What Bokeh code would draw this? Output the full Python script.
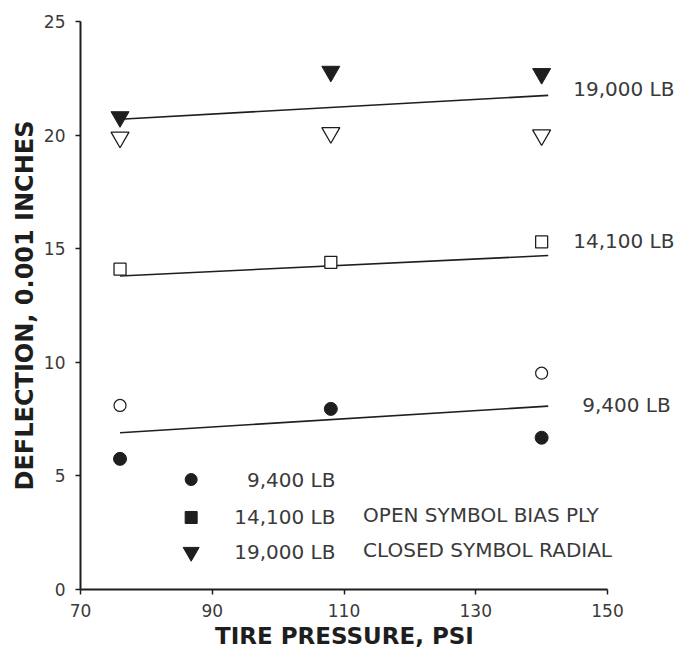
from bokeh.plotting import figure
from bokeh.models import ColumnDataSource, FixedTicker, Title
from bokeh.core.properties import value
from bokeh.embed import file_html
from bokeh.resources import INLINE

# ---- data ----
pressure = [76, 108, 140]
radial_19000 = [20.8, 22.8, 22.7]
bias_19000 = [19.9, 20.1, 20.0]
bias_14100 = [14.1, 14.4, 15.3]
radial_9400 = [5.75, 7.95, 6.68]
bias_9400_x = [76, 140]
bias_9400 = [8.1, 9.52]
fit_x = [76, 141]
fit_19000 = [20.7, 21.75]
fit_14100 = [13.8, 14.7]
fit_9400 = [6.9, 8.07]
line_labels = ["19,000 LB", "14,100 LB", "9,400 LB"]
label_y = [22.05, 15.35, 8.1]
x_ticks = [70, 90, 110, 130, 150]
y_ticks = [0, 5, 10, 15, 20, 25]
x_title = "TIRE PRESSURE, PSI"
y_title = "DEFLECTION, 0.001 INCHES"
legend_loads = ["9,400 LB", "14,100 LB", "19,000 LB"]
legend_markers = ["circle", "square", "inverted_triangle"]
legend_notes = ["OPEN SYMBOL BIAS PLY", "CLOSED SYMBOL RADIAL"]

INK = "#1e1e1e"
TXT = "#3a3a3a"
FONT = "DejaVu Sans"
PX_PER_X = 527 / 80.0
FRAME_W = 603
X_MIN, X_MAX = x_ticks[0], x_ticks[-1]

p = figure(width=683, height=652, frame_width=FRAME_W, frame_height=568,
           x_range=(X_MIN, X_MIN + FRAME_W / PX_PER_X), y_range=(0, 25),
           output_backend="svg", toolbar_location=None,
           min_border_left=80, min_border_right=0,
           min_border_top=21, min_border_bottom=63)
p.outline_line_color = None
p.xgrid.visible = False
p.ygrid.visible = False
p.background_fill_color = "white"
p.border_fill_color = "white"

for ax in (p.xaxis[0], p.yaxis[0]):
    ax.axis_line_color = INK
    ax.axis_line_width = 2
    ax.major_tick_line_color = INK
    ax.major_tick_line_width = 1.5
    ax.major_tick_in = 0
    ax.major_tick_out = 5
    ax.minor_tick_line_color = None
    ax.major_label_text_font = FONT
    ax.major_label_text_font_size = "17px"
    ax.major_label_text_color = TXT
    ax.axis_label_text_font = "DejaVu Sans"
    ax.axis_label_text_font_style = "bold"
    ax.axis_label_text_font_size = "24px"
    ax.axis_label_text_color = INK

p.xaxis[0].bounds = (X_MIN, X_MAX)
p.xaxis[0].ticker = FixedTicker(ticks=x_ticks)
p.yaxis[0].ticker = FixedTicker(ticks=y_ticks)
p.yaxis[0].axis_label = y_title
p.xaxis[0].major_label_standoff = 9
p.yaxis[0].major_label_standoff = 10
p.yaxis[0].axis_label_standoff = 2

# x-axis title, left-aligned with an offset so it is centred under the axis
title_half_width = 129
offset = (X_MAX - X_MIN) * PX_PER_X / 2 - title_half_width
p.add_layout(Title(text=x_title, align="left", offset=offset, standoff=2,
                   text_font="DejaVu Sans", text_font_style="bold",
                   text_font_size="23px", text_color=INK), "below")

# fit lines
for fy in (fit_19000, fit_14100, fit_9400):
    p.line(fit_x, fy, line_color=INK, line_width=1.6)

# markers
p.scatter(pressure, bias_19000, marker="inverted_triangle", size=18,
          fill_color="white", line_color=INK, line_width=1.3)
p.scatter(pressure, radial_19000, marker="inverted_triangle", size=18,
          fill_color=INK, line_color=INK)
p.scatter(pressure, bias_14100, marker="square", size=12,
          fill_color="white", line_color=INK, line_width=1.3)
p.scatter(bias_9400_x, bias_9400, marker="circle", size=12,
          fill_color="white", line_color=INK, line_width=1.2)
p.scatter(pressure, radial_9400, marker="circle", size=13,
          fill_color=INK, line_color=INK)

# right-hand labels (placed at the end of each fit line)
lbl_src = ColumnDataSource(dict(x=[fit_x[1]] * 3, y=label_y, t=line_labels,
                                dx=[25, 25, 34]))
p.text(x="x", y="y", text="t", source=lbl_src, x_offset="dx",
       text_font=value(FONT), text_font_size="20px", text_color=TXT,
       text_baseline="middle", text_align="left")

# legend block
leg_x = 86.8
leg_y = [4.84, 3.17, 1.65]
p.scatter([leg_x] * 3, leg_y, marker=legend_markers, size=[12, 12, 16],
          fill_color=INK, line_color=INK)
p.text(x=[108.7] * 3, y=leg_y, text=legend_loads,
       text_font=value(FONT), text_font_size="20px", text_color=TXT,
       text_baseline="middle", text_align="right")
p.text(x=[112.9] * 2, y=[3.3, 1.72], text=legend_notes,
       text_font=value(FONT), text_font_size="20px", text_color=TXT,
       text_baseline="middle", text_align="left")

open("out.html", "w").write(file_html(p, INLINE))
